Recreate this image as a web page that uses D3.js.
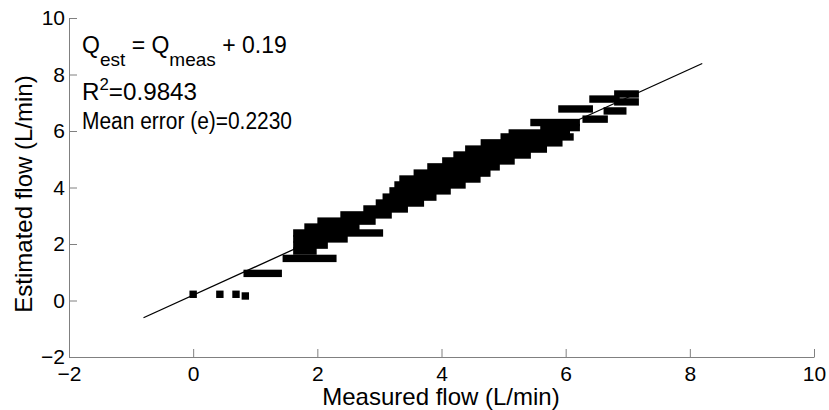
<!DOCTYPE html>
<html lang="en">
<head>
    <meta charset="UTF-8">
    <title>Estimated vs measured flow</title>
    <script src="https://d3js.org/d3.v7.min.js"></script>
    <style>
        body { margin: 0; background: #fff; }
        text { font-family: "Liberation Sans", Arial, sans-serif; }
    </style>
</head>
<body>
<script>
    const width  = 829;
    const height = 410;

    // single readings: [measured, estimated]
    const points = [[0, 0.22], [0.43, 0.22], [0.69, 0.22], [0.84, 0.16]];

    // runs of readings sharing one estimate: [measured from, measured to, estimated]
    const runs = [
      [0.87,1.37,0.96],[1.50,2.25,1.49],
      [1.67,1.93,1.75],[1.67,2.11,1.96],[1.67,2.43,2.18],[1.67,3.00,2.39],
      [1.85,2.62,2.60],[2.06,2.88,2.81],[2.43,3.14,3.03],[2.80,3.40,3.24],
      [3.00,3.66,3.45],[3.11,3.86,3.66],[3.22,4.09,3.88],[3.30,4.33,4.09],
      [3.38,4.57,4.30],[3.61,4.73,4.51],[3.83,4.88,4.73],[4.07,5.12,4.94],
      [4.25,5.38,5.15],[4.44,5.64,5.36],[4.69,5.89,5.58],[5.01,6.07,5.79],
      [5.14,6.01,5.93],[5.65,6.17,6.12],[5.49,6.17,6.30],[6.33,6.62,6.42],
      [5.94,6.38,6.78],[6.67,6.92,6.71],[6.44,6.81,7.13],[6.84,7.12,7.03],
      [6.84,7.12,7.31]
    ];

    const fitLine = [[-0.8, -0.61], [8.2, 8.39]];

    const xTicks = [-2, 0, 2, 4, 6, 8, 10];
    const yTicks = [-2, 0, 2, 4, 6, 8, 10];

    const scaleX = d3.scaleLinear().domain([-2, 10]).range([69, 814]);
    const scaleY = d3.scaleLinear().domain([-2, 10]).range([357, 18]);

    const svg = d3.select("body").append("svg").attr("width", width).attr("height", height);

    const half = 3.7;
    const marks = svg.append("g").attr("fill", "#000");
    marks.selectAll("rect.run")
        .data(runs).enter()
        .append("rect")
        .attr("class", "run")
        .attr("x", d => scaleX(d[0]) - half)
        .attr("y", d => scaleY(d[2]) - half)
        .attr("width", d => scaleX(d[1]) - scaleX(d[0]) + 2 * half)
        .attr("height", 2 * half);
    marks.selectAll("rect.pt")
        .data(points).enter()
        .append("rect")
        .attr("class", "pt")
        .attr("x", d => scaleX(d[0]) - half)
        .attr("y", d => scaleY(d[1]) - half)
        .attr("width", 2 * half)
        .attr("height", 2 * half);

    svg.append("path")
        .datum(fitLine)
        .attr("d", d3.line().x(d => scaleX(d[0])).y(d => scaleY(d[1])))
        .attr("stroke", "#000")
        .attr("stroke-width", 1.3)
        .attr("fill", "none");

    // axes: ticks point inward, grey lines
    const xAxis = d3.axisBottom(scaleX).tickValues(xTicks).tickSizeInner(-8).tickSizeOuter(0).tickPadding(9);
    const yAxis = d3.axisLeft(scaleY).tickValues(yTicks).tickSizeInner(-8).tickSizeOuter(0).tickPadding(5);

    const gx = svg.append("g").attr("transform", "translate(0," + scaleY(-2) + ")").call(xAxis);
    const gy = svg.append("g").attr("transform", "translate(" + scaleX(-2) + ",0)").call(yAxis);
    [gx, gy].forEach(g => {
        g.select(".domain").attr("stroke", "#808080");
        g.selectAll(".tick line").attr("stroke", "#808080");
        g.selectAll(".tick text").attr("fill", "#000").attr("font-size", 21)
            .attr("font-family", "'Liberation Sans', Arial, sans-serif");
    });
    gy.selectAll(".tick text").attr("x", -4);

    svg.append("text")
        .attr("x", 441).attr("y", 405)
        .attr("text-anchor", "middle")
        .attr("font-size", 24)
        .text("Measured flow (L/min)");

    svg.append("text")
        .attr("transform", "translate(32,194) rotate(-90)")
        .attr("text-anchor", "middle")
        .attr("font-size", 24)
        .text("Estimated flow (L/min)");

    // annotation
    const note = svg.append("g");
    const l1 = note.append("text").attr("x", 82).attr("y", 53).attr("font-size", 23);
    l1.append("tspan").text("Q");
    l1.append("tspan").attr("dy", 13).attr("font-size", 19).text("est");
    l1.append("tspan").attr("dy", -13).text(" = Q");
    l1.append("tspan").attr("dy", 13).attr("font-size", 19).text("meas");
    l1.append("tspan").attr("dy", -13).text(" + 0.19");

    const l2 = note.append("text").attr("x", 82).attr("y", 100).attr("font-size", 23)
        .attr("textLength", 115).attr("lengthAdjust", "spacingAndGlyphs");
    l2.append("tspan").text("R");
    l2.append("tspan").attr("dy", -10).attr("font-size", 16).text("2");
    l2.append("tspan").attr("dy", 10).text("=0.9843");

    note.append("text").attr("x", 82).attr("y", 129).attr("font-size", 23)
        .attr("textLength", 210).attr("lengthAdjust", "spacingAndGlyphs")
        .text("Mean error (e)=0.2230");
</script>
</body>
</html>
